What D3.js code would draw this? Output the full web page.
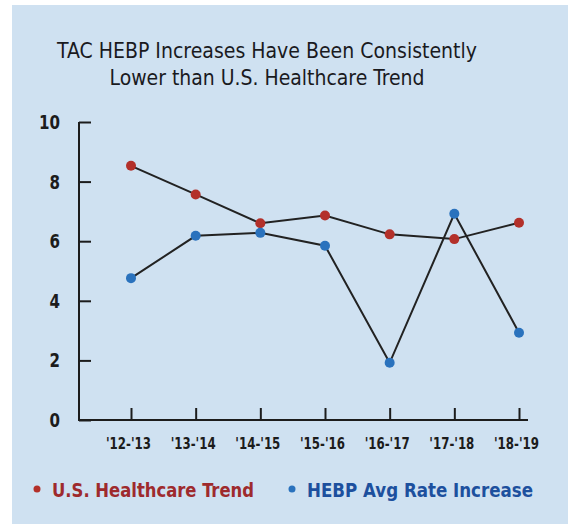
<!DOCTYPE html>
<html>
<head>
<meta charset="utf-8">
<script src="https://cdn.jsdelivr.net/npm/d3@7"></script>
<style>
  body { margin: 0; background: #fff; }
  svg text { font-family: "DejaVu Sans Condensed", "Liberation Sans Narrow", sans-serif; }
</style>
</head>
<body>
<div id="visualization"></div>
<script>
let w = 568;
let h = 528;

// data
let periods = ["'12-'13", "'13-'14", "'14-'15", "'15-'16", "'16-'17", "'17-'18", "'18-'19"];
let usTrend = [8.53, 7.57, 6.60, 6.86, 6.23, 6.07, 6.62];
let hebpRate = [4.76, 6.18, 6.28, 5.85, 1.92, 6.92, 2.93];
let yTicks = [0, 2, 4, 6, 8, 10];
let titleLines = ["TAC HEBP Increases Have Been Consistently", "Lower than U.S. Healthcare Trend"];
let legendLabels = ["U.S. Healthcare Trend", "HEBP Avg Rate Increase"];

let viz = d3.select("#visualization")
  .append("svg")
  .attr("width", w)
  .attr("height", h);

// scanned page background
viz.append("rect")
  .attr("x", 12).attr("y", 5)
  .attr("width", w - 12).attr("height", 519)
  .attr("fill", "#cfe1f1");

// scales
let xScale = d3.scalePoint().domain(periods).range([131, 519]);
let yScale = d3.scaleLinear().domain([0, 10]).range([420, 122]);

// title (condensed face, squeezed to the printed widths)
let titleWidths = [420, 315];
viz.selectAll(".title").data(titleLines).enter()
  .append("text")
  .attr("class", "title")
  .attr("x", 267)
  .attr("y", (d, i) => 58 + i * 27)
  .attr("text-anchor", "middle")
  .attr("font-size", 21)
  .attr("textLength", (d, i) => titleWidths[i])
  .attr("lengthAdjust", "spacingAndGlyphs")
  .attr("fill", "#1a1a1e")
  .text(d => d);

// axis lines
viz.append("line")
  .attr("x1", 79).attr("x2", 79)
  .attr("y1", 122).attr("y2", 420)
  .attr("stroke", "#1c1c1c").attr("stroke-width", 2);
viz.append("line")
  .attr("x1", 78).attr("x2", 528)
  .attr("y1", 420).attr("y2", 420)
  .attr("stroke", "#1c1c1c").attr("stroke-width", 2);

// y axis
let yAxis = d3.axisLeft(yScale).tickValues(yTicks).tickSize(-12).tickPadding(19);
let yAxisGroup = viz.append("g")
  .attr("transform", "translate(79,0)")
  .call(yAxis);
yAxisGroup.select(".domain").remove();
yAxisGroup.selectAll("line").attr("stroke", "#1c1c1c").attr("stroke-width", 2);
yAxisGroup.selectAll("text")
  .attr("font-size", 20).attr("font-weight", "bold").attr("fill", "#1c1c1c")
  .attr("textLength", d => String(d).length * 10.5)
  .attr("lengthAdjust", "spacingAndGlyphs");

// x axis
let xAxis = d3.axisBottom(xScale).tickSize(-12).tickPadding(18);
let xAxisGroup = viz.append("g")
  .attr("transform", "translate(0,420)")
  .call(xAxis);
xAxisGroup.select(".domain").remove();
xAxisGroup.selectAll("line").attr("stroke", "#1c1c1c").attr("stroke-width", 2);
xAxisGroup.selectAll("text")
  .attr("dx", -3)
  .attr("font-size", 16).attr("font-weight", "bold").attr("fill", "#1c1c1c")
  .attr("textLength", 45)
  .attr("lengthAdjust", "spacingAndGlyphs");

// lines + points
let series = [
  { values: usTrend, color: "#b3302a" },
  { values: hebpRate, color: "#2a72bd" }
];

let line = d3.line()
  .x((d, i) => xScale(periods[i]))
  .y(d => yScale(d));

series.forEach(s => {
  viz.append("path")
    .datum(s.values)
    .attr("d", line)
    .attr("fill", "none")
    .attr("stroke", "#222")
    .attr("stroke-width", 2);
});

series.forEach(s => {
  viz.selectAll(null).data(s.values).enter()
    .append("circle")
    .attr("cx", (d, i) => xScale(periods[i]))
    .attr("cy", d => yScale(d))
    .attr("r", 5)
    .attr("fill", s.color);
});

// legend
let legendX = [37, 292];
let legendWidths = [202, 226];
let legendColors = ["#9e2a2d", "#1d509e"];
let legend = viz.selectAll(".legend").data(legendLabels).enter()
  .append("g")
  .attr("class", "legend")
  .attr("transform", (d, i) => "translate(" + legendX[i] + ",489)");
legend.append("circle")
  .attr("r", 3.5)
  .attr("fill", (d, i) => i == 0 ? "#b3302a" : "#2a72bd");
legend.append("text")
  .attr("x", 15)
  .attr("y", 8)
  .attr("font-size", 20)
  .attr("font-weight", "bold")
  .attr("textLength", (d, i) => legendWidths[i])
  .attr("lengthAdjust", "spacingAndGlyphs")
  .attr("fill", (d, i) => legendColors[i])
  .text(d => d);
</script>
</body>
</html>
